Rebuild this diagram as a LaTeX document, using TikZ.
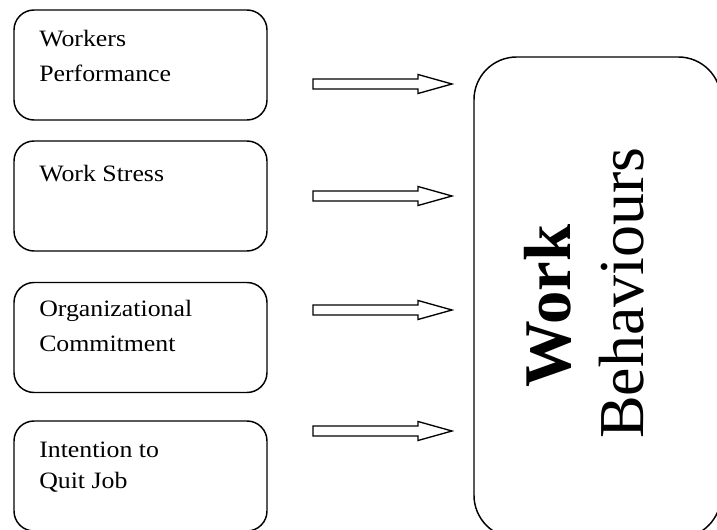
\documentclass[tikz,border=0pt]{standalone}
\usepackage{fontspec}
\setmainfont{Liberation Serif}
\newfontfamily\boxfont[FakeStretch=1.1]{Liberation Serif}
\usetikzlibrary{positioning}
\tikzset{
  factorbox/.style={draw, line width=1.1pt, rounded corners=15pt, minimum width=189.75pt, minimum height=82.5pt, inner sep=0pt},
  boxtext/.style={anchor=base west, inner sep=0pt, align=left, font=\boxfont\fontsize{17.6}{26.25}\selectfont},
  blockarrow/.style={draw, line width=1pt, line join=miter},
}
\begin{document}
\begin{tikzpicture}[x=0.75pt, y=-0.75pt, line join=round]
\useasboundingbox (0,0) rectangle (717,530);
\clip (0,0) rectangle (717,530);
% factors
\node[factorbox] (wp) at (140.5,65) {};
\node[factorbox] (ws) at (140.5,196) {};
\node[factorbox] (oc) at (140.5,337.5) {};
\node[factorbox] (iq) at (140.5,476) {};
\node[boxtext] (wptext) at (39,81.5) {Workers\\Performance};
\node[boxtext] (wstext) at (39,182) {Work Stress};
\node[boxtext] (octext) at (39,352) {Organizational\\Commitment};
\node[boxtext, font=\boxfont\fontsize{17.6}{22.5}\selectfont] (iqtext) at (39,488) {Intention to\\Quit Job};
% outcome
\node[draw, line width=1.1pt, rounded corners=32pt, minimum width=185.25pt, minimum height=360.75pt] (wb) at (597.5,297.5) {};
\node[rotate=90, anchor=base, inner sep=0pt, font=\fontsize{50}{50}\selectfont\bfseries] (wbtop) at (570,306) {Work};
\node[rotate=90, anchor=base, inner sep=0pt, font=\fontsize{48}{48}\selectfont] (wbbot) at (643,293) {Behaviours};
% arrows
\foreach \y in {84,196,310,431}
  \draw[blockarrow] (313,\y-5) -- (418,\y-5) -- (418,\y-9.5) -- (452,\y)
    -- (418,\y+9.5) -- (418,\y+5) -- (313,\y+5) -- cycle;
\end{tikzpicture}
\end{document}
